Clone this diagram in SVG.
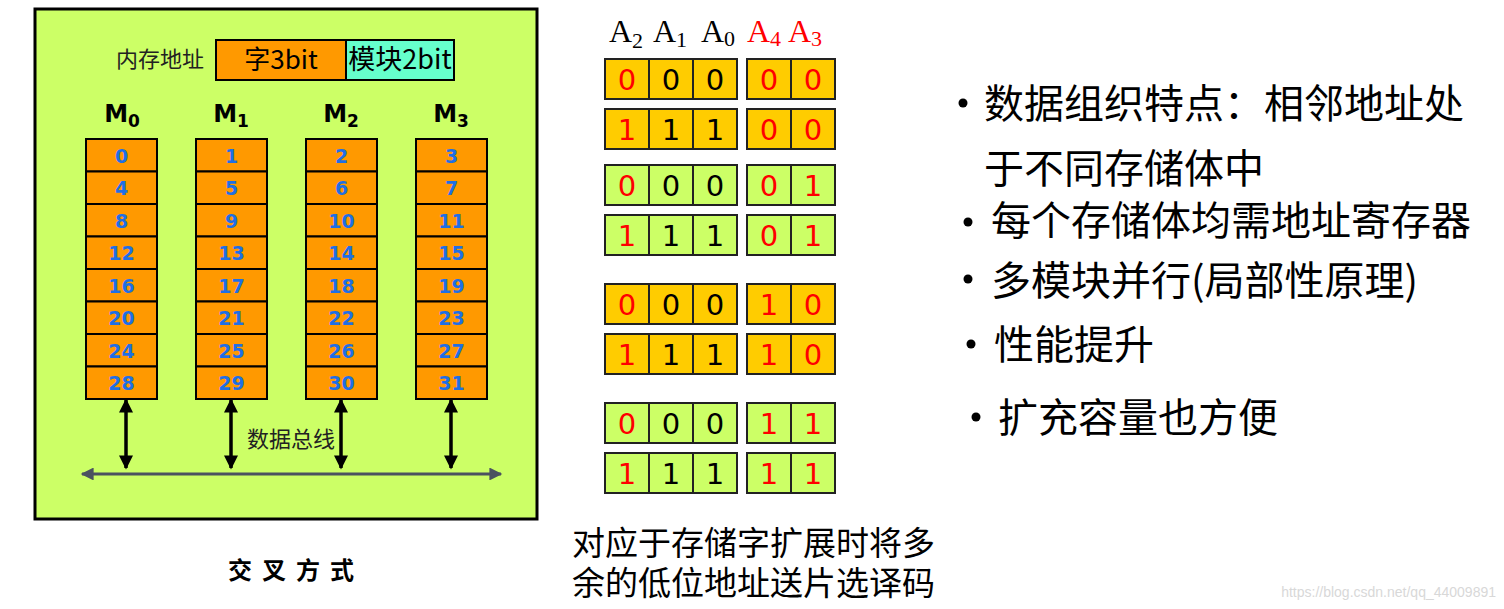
<svg xmlns="http://www.w3.org/2000/svg" width="1504" height="609" viewBox="0 0 1504 609">
<style>
.cell{fill:#FF9900;stroke:#000;stroke-width:2}
.num{font-family:"DejaVu Sans",Verdana,sans-serif;font-weight:bold;font-size:19px;fill:#1F6FE5;text-anchor:middle}
.mlab{font-family:"DejaVu Sans",Verdana,sans-serif;font-weight:bold;font-size:24px;fill:#000;text-anchor:middle}
.cn{font-family:"Noto Sans CJK SC",sans-serif}
.bo{fill:#FFCC00;stroke:#222;stroke-width:2}
.bg{fill:#CCFF66;stroke:#222;stroke-width:2}
.d{font-family:"DejaVu Sans",Verdana,sans-serif;font-size:29px;text-anchor:middle}
.r{fill:#FF0000}
.k{fill:#000}
.alab{font-family:"Liberation Serif","Times New Roman",serif;font-size:32px}
.bul{font-family:"Noto Sans CJK SC",sans-serif;font-size:40px;fill:#000}
.dot{fill:#000}
.va{stroke:#000;stroke-width:3.5}
</style>
<defs>
<marker id="ah" viewBox="0 0 10 10" refX="9" refY="5" markerWidth="4.2" markerHeight="4" orient="auto-start-reverse" markerUnits="strokeWidth"><path d="M0,0 L10,5 L0,10 z" fill="#000"/></marker>
<marker id="ahb" viewBox="0 0 10 10" refX="9" refY="5" markerWidth="5" markerHeight="4.3" orient="auto-start-reverse" markerUnits="strokeWidth"><path d="M0,0 L10,5 L0,10 z" fill="#4B5260"/></marker>
</defs>
<rect width="1504" height="609" fill="#fff"/>
<g id="frame">
<rect x="35" y="9" width="502" height="510" fill="#CCFF66" stroke="#000" stroke-width="3"/>
</g>
<g id="address">
<text x="160" y="67" class="cn" font-size="22" text-anchor="middle" fill="#222">内存地址</text>
<rect x="216" y="40" width="130" height="40" fill="#FF9900" stroke="#000" stroke-width="2"/>
<rect x="346" y="40" width="108" height="40" fill="#66FFCC" stroke="#000" stroke-width="2"/>
<text x="281" y="69" class="cn" font-size="26" text-anchor="middle" fill="#000">字3bit</text>
<text x="400" y="69" class="cn" font-size="27" text-anchor="middle" fill="#000">模块2bit</text>
</g>
<g id="M0">
<text x="122" y="122" class="mlab">M<tspan font-size="17" dy="5">0</tspan></text>
<rect class="cell" x="86" y="139" width="71" height="32.5"/><rect class="cell" x="86" y="171.5" width="71" height="32.5"/><rect class="cell" x="86" y="204" width="71" height="32.5"/><rect class="cell" x="86" y="236.5" width="71" height="32.5"/><rect class="cell" x="86" y="269" width="71" height="32.5"/><rect class="cell" x="86" y="301.5" width="71" height="32.5"/><rect class="cell" x="86" y="334" width="71" height="32.5"/><rect class="cell" x="86" y="366.5" width="71" height="32.5"/>
<text class="num" x="121.5" y="162.5">0</text><text class="num" x="121.5" y="195">4</text><text class="num" x="121.5" y="227.5">8</text><text class="num" x="121.5" y="260">12</text><text class="num" x="121.5" y="292.5">16</text><text class="num" x="121.5" y="325">20</text><text class="num" x="121.5" y="357.5">24</text><text class="num" x="121.5" y="390">28</text>
</g>
<g id="M1">
<text x="231" y="122" class="mlab">M<tspan font-size="17" dy="5">1</tspan></text>
<rect class="cell" x="196" y="139" width="71" height="32.5"/><rect class="cell" x="196" y="171.5" width="71" height="32.5"/><rect class="cell" x="196" y="204" width="71" height="32.5"/><rect class="cell" x="196" y="236.5" width="71" height="32.5"/><rect class="cell" x="196" y="269" width="71" height="32.5"/><rect class="cell" x="196" y="301.5" width="71" height="32.5"/><rect class="cell" x="196" y="334" width="71" height="32.5"/><rect class="cell" x="196" y="366.5" width="71" height="32.5"/>
<text class="num" x="231.5" y="162.5">1</text><text class="num" x="231.5" y="195">5</text><text class="num" x="231.5" y="227.5">9</text><text class="num" x="231.5" y="260">13</text><text class="num" x="231.5" y="292.5">17</text><text class="num" x="231.5" y="325">21</text><text class="num" x="231.5" y="357.5">25</text><text class="num" x="231.5" y="390">29</text>
</g>
<g id="M2">
<text x="341" y="122" class="mlab">M<tspan font-size="17" dy="5">2</tspan></text>
<rect class="cell" x="306" y="139" width="71" height="32.5"/><rect class="cell" x="306" y="171.5" width="71" height="32.5"/><rect class="cell" x="306" y="204" width="71" height="32.5"/><rect class="cell" x="306" y="236.5" width="71" height="32.5"/><rect class="cell" x="306" y="269" width="71" height="32.5"/><rect class="cell" x="306" y="301.5" width="71" height="32.5"/><rect class="cell" x="306" y="334" width="71" height="32.5"/><rect class="cell" x="306" y="366.5" width="71" height="32.5"/>
<text class="num" x="341.5" y="162.5">2</text><text class="num" x="341.5" y="195">6</text><text class="num" x="341.5" y="227.5">10</text><text class="num" x="341.5" y="260">14</text><text class="num" x="341.5" y="292.5">18</text><text class="num" x="341.5" y="325">22</text><text class="num" x="341.5" y="357.5">26</text><text class="num" x="341.5" y="390">30</text>
</g>
<g id="M3">
<text x="451" y="122" class="mlab">M<tspan font-size="17" dy="5">3</tspan></text>
<rect class="cell" x="416" y="139" width="71" height="32.5"/><rect class="cell" x="416" y="171.5" width="71" height="32.5"/><rect class="cell" x="416" y="204" width="71" height="32.5"/><rect class="cell" x="416" y="236.5" width="71" height="32.5"/><rect class="cell" x="416" y="269" width="71" height="32.5"/><rect class="cell" x="416" y="301.5" width="71" height="32.5"/><rect class="cell" x="416" y="334" width="71" height="32.5"/><rect class="cell" x="416" y="366.5" width="71" height="32.5"/>
<text class="num" x="451.5" y="162.5">3</text><text class="num" x="451.5" y="195">7</text><text class="num" x="451.5" y="227.5">11</text><text class="num" x="451.5" y="260">15</text><text class="num" x="451.5" y="292.5">19</text><text class="num" x="451.5" y="325">23</text><text class="num" x="451.5" y="357.5">27</text><text class="num" x="451.5" y="390">31</text>
</g>
<g id="connectors">
<line class="va" x1="126" y1="400" x2="126" y2="468" marker-start="url(#ah)" marker-end="url(#ah)"/>
<line class="va" x1="231" y1="400" x2="231" y2="468" marker-start="url(#ah)" marker-end="url(#ah)"/>
<line class="va" x1="341" y1="400" x2="341" y2="468" marker-start="url(#ah)" marker-end="url(#ah)"/>
<line class="va" x1="451" y1="400" x2="451" y2="468" marker-start="url(#ah)" marker-end="url(#ah)"/>
<line x1="82" y1="474" x2="501" y2="474" stroke="#4B5260" stroke-width="3" marker-start="url(#ahb)" marker-end="url(#ahb)"/>
</g>
<g id="bus-label">
<text x="291" y="447" class="cn" font-size="22" text-anchor="middle" fill="#222">数据总线</text>
</g>
<g id="caption-left">
<text x="296" y="579" class="cn" font-size="24" font-weight="bold" text-anchor="middle" letter-spacing="10" fill="#000">交叉方式</text>
</g>
<g id="A-labels" class="alab">
<text x="609" y="42" fill="#000">A<tspan font-size="22" dy="6">2</tspan></text>
<text x="653" y="42" fill="#000">A<tspan font-size="22" dy="5">1</tspan></text>
<text x="701" y="42" fill="#000">A<tspan font-size="22" dy="4">0</tspan></text>
<text x="747" y="42" fill="#FF0000">A<tspan font-size="22" dy="4">4</tspan></text>
<text x="788" y="42" fill="#FF0000">A<tspan font-size="22" dy="4">3</tspan></text>
</g>
<g id="bits">
<g id="row1"><rect class="bo" x="605" y="59" width="44" height="40"/><rect class="bo" x="649" y="59" width="44" height="40"/><rect class="bo" x="693" y="59" width="44" height="40"/><rect class="bo" x="747" y="59" width="44" height="40"/><rect class="bo" x="791" y="59" width="44" height="40"/>
<text class="d r" x="627" y="90">0</text><text class="d k" x="671" y="90">0</text><text class="d k" x="715" y="90">0</text><text class="d r" x="769" y="90">0</text><text class="d r" x="813" y="90">0</text></g>
<g id="row2"><rect class="bo" x="605" y="109" width="44" height="40"/><rect class="bo" x="649" y="109" width="44" height="40"/><rect class="bo" x="693" y="109" width="44" height="40"/><rect class="bo" x="747" y="109" width="44" height="40"/><rect class="bo" x="791" y="109" width="44" height="40"/>
<text class="d r" x="627" y="140">1</text><text class="d k" x="671" y="140">1</text><text class="d k" x="715" y="140">1</text><text class="d r" x="769" y="140">0</text><text class="d r" x="813" y="140">0</text></g>
<g id="row3"><rect class="bg" x="605" y="165" width="44" height="40"/><rect class="bg" x="649" y="165" width="44" height="40"/><rect class="bg" x="693" y="165" width="44" height="40"/><rect class="bg" x="747" y="165" width="44" height="40"/><rect class="bg" x="791" y="165" width="44" height="40"/>
<text class="d r" x="627" y="196">0</text><text class="d k" x="671" y="196">0</text><text class="d k" x="715" y="196">0</text><text class="d r" x="769" y="196">0</text><text class="d r" x="813" y="196">1</text></g>
<g id="row4"><rect class="bg" x="605" y="215" width="44" height="40"/><rect class="bg" x="649" y="215" width="44" height="40"/><rect class="bg" x="693" y="215" width="44" height="40"/><rect class="bg" x="747" y="215" width="44" height="40"/><rect class="bg" x="791" y="215" width="44" height="40"/>
<text class="d r" x="627" y="246">1</text><text class="d k" x="671" y="246">1</text><text class="d k" x="715" y="246">1</text><text class="d r" x="769" y="246">0</text><text class="d r" x="813" y="246">1</text></g>
<g id="row5"><rect class="bo" x="605" y="284" width="44" height="40"/><rect class="bo" x="649" y="284" width="44" height="40"/><rect class="bo" x="693" y="284" width="44" height="40"/><rect class="bo" x="747" y="284" width="44" height="40"/><rect class="bo" x="791" y="284" width="44" height="40"/>
<text class="d r" x="627" y="315">0</text><text class="d k" x="671" y="315">0</text><text class="d k" x="715" y="315">0</text><text class="d r" x="769" y="315">1</text><text class="d r" x="813" y="315">0</text></g>
<g id="row6"><rect class="bo" x="605" y="334" width="44" height="40"/><rect class="bo" x="649" y="334" width="44" height="40"/><rect class="bo" x="693" y="334" width="44" height="40"/><rect class="bo" x="747" y="334" width="44" height="40"/><rect class="bo" x="791" y="334" width="44" height="40"/>
<text class="d r" x="627" y="365">1</text><text class="d k" x="671" y="365">1</text><text class="d k" x="715" y="365">1</text><text class="d r" x="769" y="365">1</text><text class="d r" x="813" y="365">0</text></g>
<g id="row7"><rect class="bg" x="605" y="403" width="44" height="40"/><rect class="bg" x="649" y="403" width="44" height="40"/><rect class="bg" x="693" y="403" width="44" height="40"/><rect class="bg" x="747" y="403" width="44" height="40"/><rect class="bg" x="791" y="403" width="44" height="40"/>
<text class="d r" x="627" y="434">0</text><text class="d k" x="671" y="434">0</text><text class="d k" x="715" y="434">0</text><text class="d r" x="769" y="434">1</text><text class="d r" x="813" y="434">1</text></g>
<g id="row8"><rect class="bg" x="605" y="453" width="44" height="40"/><rect class="bg" x="649" y="453" width="44" height="40"/><rect class="bg" x="693" y="453" width="44" height="40"/><rect class="bg" x="747" y="453" width="44" height="40"/><rect class="bg" x="791" y="453" width="44" height="40"/>
<text class="d r" x="627" y="484">1</text><text class="d k" x="671" y="484">1</text><text class="d k" x="715" y="484">1</text><text class="d r" x="769" y="484">1</text><text class="d r" x="813" y="484">1</text></g>
</g>
<g id="caption-mid">
<text x="572" y="555" class="cn" font-size="33" fill="#000">对应于存储字扩展时将多</text>
<text x="572" y="595" class="cn" font-size="33" fill="#000">余的低位地址送片选译码</text>
</g>
<g id="bullets" class="bul">
<circle class="dot" cx="963" cy="103" r="4.5"/><text x="984" y="118">数据组织特点：相邻地址处</text>
<text x="984" y="183">于不同存储体中</text>
<circle class="dot" cx="968" cy="222" r="4.5"/><text x="991" y="235">每个存储体均需地址寄存器</text>
<circle class="dot" cx="968" cy="279" r="4.5"/><text x="991" y="295">多模块并行(局部性原理)</text>
<circle class="dot" cx="971" cy="344" r="4.5"/><text x="994" y="359">性能提升</text>
<circle class="dot" cx="976" cy="417" r="4.5"/><text x="998" y="432">扩充容量也方便</text>
</g>
<g id="watermark">
<text x="1496" y="597" font-family="'Liberation Sans',Arial,sans-serif" font-size="14" fill="#d8d8d8" text-anchor="end">https://blog.csdn.net/qq_44009891</text>
</g>
</svg>
